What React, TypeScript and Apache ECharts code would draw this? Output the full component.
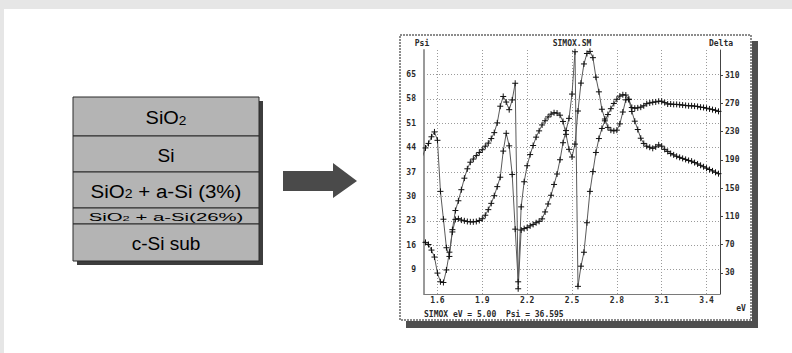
import React, { useEffect, useRef } from "react";
import * as echarts from "echarts";

// photon energy (eV)
const energies = [
  1.5, 1.52, 1.54, 1.56, 1.58, 1.6, 1.62, 1.64, 1.66, 1.68,
  1.7, 1.72, 1.74, 1.76, 1.78, 1.8, 1.82, 1.84, 1.86, 1.88,
  1.9, 1.92, 1.94, 1.96, 1.98, 2.0, 2.02, 2.04, 2.06, 2.08,
  2.1, 2.12, 2.14, 2.16, 2.18, 2.2, 2.22, 2.24, 2.26, 2.28,
  2.3, 2.32, 2.34, 2.36, 2.38, 2.4, 2.42, 2.44, 2.46, 2.48,
  2.5, 2.52, 2.54, 2.56, 2.58, 2.6, 2.62, 2.64, 2.66, 2.68,
  2.7, 2.72, 2.74, 2.76, 2.78, 2.8, 2.82, 2.84, 2.86, 2.88,
  2.9, 2.92, 2.94, 2.96, 2.98, 3.0, 3.02, 3.04, 3.06, 3.08,
  3.1, 3.12, 3.14, 3.16, 3.18, 3.2, 3.22, 3.24, 3.26, 3.28,
  3.3, 3.32, 3.34, 3.36, 3.38, 3.4, 3.42, 3.44, 3.46, 3.48,
  3.5,
];

// Psi (deg, left axis)
const psi = [
  17.3, 16.8, 16.2, 14.6, 12.6, 8.0, 5.5, 5.3, 8.9, 14.0,
  19.8, 23.4, 23.6, 23.2, 23.0, 22.8, 22.7, 22.7, 22.8, 23.1,
  23.6, 24.6, 26.2, 28.0, 30.2, 32.8, 35.5, 43.0, 48.1, 44.5,
  36.3, 20.6, 5.5, 27.0, 34.2, 38.8, 42.0, 44.6, 47.0, 48.8,
  50.5, 51.7, 52.8, 53.6, 54.0, 53.9, 53.3, 51.5, 47.8, 43.5,
  41.3, 45.0, 54.5, 62.5, 68.0, 71.0, 71.6, 69.8, 64.2, 60.0,
  55.0, 52.2, 49.8, 49.0, 48.8, 49.0, 50.8, 54.2, 57.7, 57.9,
  55.5, 55.3, 55.4, 55.6, 56.0, 56.6, 56.8, 57.0, 57.1, 57.3,
  57.3, 56.9, 56.5, 56.5, 56.4, 56.4, 56.3, 56.2, 56.1, 56.0,
  56.0, 55.9, 55.8, 55.6, 55.5, 55.3, 55.1, 54.9, 54.7, 54.4,
  54.2,
];

// Delta (deg, right axis)
const delta = [
  194.5, 206.8, 213.2, 222.6, 229.5, 217.6, 145.3, 105.9, 65.5, 53.2,
  91.1, 118.2, 132.0, 147.7, 164.0, 177.3, 186.6, 191.1, 196.0, 200.4,
  204.3, 209.3, 213.7, 220.1, 228.5, 242.3, 265.9, 279.7, 271.8, 261.0,
  274.8, 298.4, 7.4, 90.6, 92.6, 94.0, 96.5, 98.5, 100.9, 102.9,
  106.4, 116.2, 127.5, 139.8, 155.1, 169.9, 190.1, 214.2, 231.4, 248.7,
  283.1, 343.0, 10.8, 39.4, 59.1, 100.9, 145.3, 173.3, 200.4, 220.1,
  234.4, 245.2, 254.1, 262.4, 269.8, 275.7, 280.2, 282.1, 281.7, 275.3,
  258.5, 244.7, 232.9, 220.6, 213.2, 209.3, 207.8, 206.3, 208.3, 211.2,
  209.3, 204.8, 201.9, 198.9, 197.0, 195.0, 193.5, 192.0, 190.6, 189.1,
  188.1, 186.1, 184.2, 182.2, 180.2, 178.2, 176.3, 174.3, 172.3, 170.4,
  168.4,
];

const xTicks = [1.6, 1.9, 2.2, 2.5, 2.8, 3.1, 3.4];
const psiTicks = [9, 16, 23, 30, 37, 44, 51, 58, 65];
const deltaTicks = [30, 70, 110, 150, 190, 230, 270, 310];

const layerLabels = [
  "SiO{s|2}",
  "Si",
  "SiO{s|2} + a-Si (3%)",
  "SiO{s|2} + a-Si(26%)",
  "c-Si sub",
];

const chartTitle = "SIMOX.SM";
const leftName = "Psi";
const rightName = "Delta";
const xName = "eV";
const statusLine = "SIMOX eV = 5.00  Psi = 36.595";

const MONO = '"DejaVu Sans Mono", monospace';
const SANS = '"Liberation Sans", Arial, sans-serif';
const CROSS = "path://M0,5L10,5M5,0L5,10";

function monoText(text: string, x: number, y: number, align = "center") {
  return {
    type: "text",
    x,
    y,
    z: 20,
    style: {
      text,
      fontFamily: MONO,
      fontSize: 8,
      fontWeight: "bold",
      fill: "#2a2a2a",
      align,
      textAlign: align,
      verticalAlign: "middle",
      textVerticalAlign: "middle",
    },
  };
}

function buildGraphics() {
  const els: any[] = [];
  // page bands
  els.push({ type: "rect", z: -30, shape: { x: 0, y: 0, width: 792, height: 9 }, style: { fill: "#e6e6e6" } });
  els.push({ type: "rect", z: -30, shape: { x: 0, y: 0, width: 4, height: 353 }, style: { fill: "#e6e6e6" } });

  // layer stack
  const tops = [97, 136, 172, 208, 224, 261];
  const sizes = [19, 19, 19, 11, 19];
  const stretch = [1.05, 1, 1.08, 1.85, 1];
  els.push({ type: "rect", z: 1, shape: { x: 77, y: 101, width: 186, height: 164 }, style: { fill: "#3d3d3d" } });
  layerLabels.forEach((lab, i) => {
    els.push({
      type: "rect",
      z: 2,
      shape: { x: 73, y: tops[i], width: 186, height: tops[i + 1] - tops[i] },
      style: { fill: "#b4b4b4", stroke: "#2a2a2a", lineWidth: 1 },
    });
    els.push({
      type: "text",
      z: 3,
      x: 166,
      y: (tops[i] + tops[i + 1]) / 2 + 1,
      scaleX: stretch[i],
      style: {
        text: lab,
        fontFamily: SANS,
        fontSize: sizes[i],
        fill: "#000",
        align: "center",
        textAlign: "center",
        verticalAlign: "middle",
        textVerticalAlign: "middle",
        rich: { s: { fontFamily: SANS, fontSize: Math.round(sizes[i] * 0.68), fill: "#000", verticalAlign: "bottom" } },
      },
    });
  });

  // arrow
  els.push({
    type: "polygon",
    z: 2,
    shape: { points: [[283, 171], [333, 171], [333, 163], [357, 181], [333, 198], [333, 191], [283, 191]] },
    style: { fill: "#4a4a4a" },
  });

  // chart window + shadow
  els.push({ type: "rect", z: -21, shape: { x: 752, y: 41, width: 6, height: 287 }, style: { fill: "#4f4f4f" } });
  els.push({ type: "rect", z: -21, shape: { x: 406, y: 321, width: 352, height: 7 }, style: { fill: "#4f4f4f" } });
  els.push({
    type: "rect",
    z: -20,
    shape: { x: 400, y: 35, width: 351, height: 285 },
    style: { fill: "#ffffff", stroke: "#8c8c8c", lineWidth: 2, lineDash: [2, 1] },
  });

  els.push(monoText(leftName, 422, 43));
  els.push(monoText(chartTitle, 572, 43));
  els.push(monoText(rightName, 721, 43));
  els.push(monoText(xName, 741, 308));
  els.push(monoText(statusLine, 424, 314, "left"));
  return els;
}

const axisFont = { fontFamily: MONO, fontSize: 8, fontWeight: "bold", color: "#2a2a2a" };
const gridLine = { show: true, lineStyle: { color: "#9a9a9a", type: [1, 2], width: 1 } };

function buildOption() {
  const lineCommon = {
    type: "line",
    symbol: CROSS,
    symbolSize: 6,
    showAllSymbol: true,
    showSymbol: true,
    clip: true,
    z: 5,
    lineStyle: { color: "#5a5a5a", width: 1 },
    itemStyle: { color: "#111", borderColor: "#111", borderWidth: 1 },
    emphasis: { disabled: true },
    silent: true,
  };
  return {
    animation: false,
    backgroundColor: "#ffffff",
    grid: { left: 424, right: 72, top: 50, bottom: 59, containLabel: false, outerBoundsMode: "none" },
    xAxis: {
      type: "value",
      min: 1.51,
      max: 3.49,
      axisLine: { show: true, onZero: false, lineStyle: { color: "#7a7a7a", width: 1 } },
      axisTick: { show: false, customValues: xTicks },
      axisLabel: { ...axisFont, customValues: xTicks, margin: 2, formatter: (v: number) => v.toFixed(1) },
      splitLine: gridLine,
    },
    yAxis: [
      {
        type: "value",
        position: "left",
        min: 2,
        max: 72,
        axisLine: { show: true, onZero: false, lineStyle: { color: "#9a9a9a", width: 2 } },
        axisTick: { show: false, customValues: psiTicks },
        axisLabel: { ...axisFont, customValues: psiTicks, margin: 8 },
        splitLine: gridLine,
      },
      {
        type: "value",
        position: "right",
        min: 0,
        max: 345.5,
        axisLine: { show: true, onZero: false, lineStyle: { color: "#444", width: 1 } },
        axisTick: { show: true, inside: false, length: 3, customValues: deltaTicks, lineStyle: { color: "#444" } },
        axisLabel: { ...axisFont, customValues: deltaTicks, margin: 5 },
        splitLine: { show: false },
      },
    ],
    graphic: { elements: buildGraphics() },
    series: [
      { ...lineCommon, name: "Psi", yAxisIndex: 0, data: energies.map((e, i) => [e, psi[i]]) },
      { ...lineCommon, name: "Delta", yAxisIndex: 1, data: energies.map((e, i) => [e, delta[i]]) },
    ],
  };
}

export default function App() {
  const ref = useRef<HTMLDivElement>(null);
  useEffect(() => {
    const chart = echarts.init(ref.current!, null, { renderer: "svg" });
    chart.setOption(buildOption() as any);
    return () => chart.dispose();
  }, []);
  return (
    <div
      ref={ref}
      style={{ position: "absolute", left: 0, top: 0, width: 792, height: 353 }}
    />
  );
}
